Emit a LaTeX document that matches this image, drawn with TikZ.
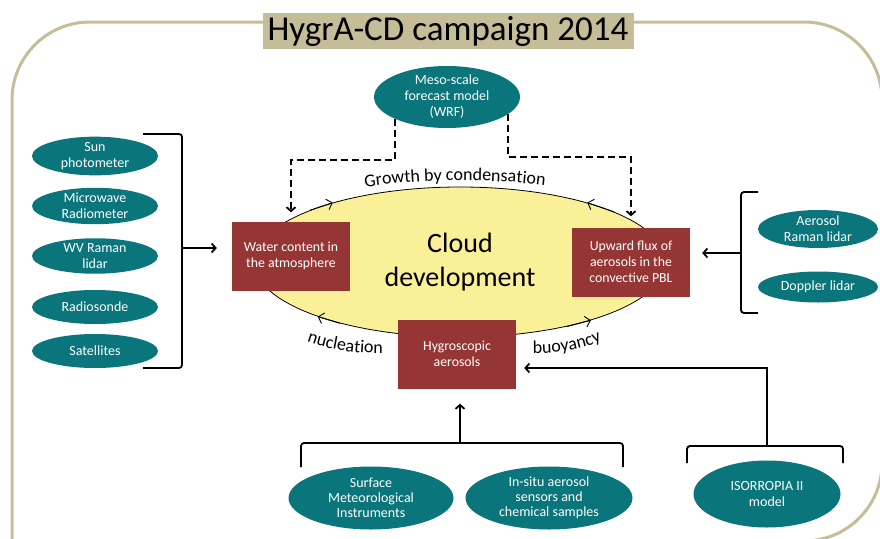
\documentclass[tikz,border=0pt]{standalone}
\usepackage{fontspec}
\setmainfont{Carlito}
\usetikzlibrary{shapes.geometric,arrows.meta,decorations.text}

\definecolor{khaki}{RGB}{197,189,151}
\definecolor{tealfill}{RGB}{10,117,123}
\definecolor{boxred}{RGB}{150,54,52}
\definecolor{cloudy}{RGB}{250,240,152}

\newcommand\smallf{\fontsize{13.8}{16}\selectfont}
\newcommand\labf{\fontsize{18}{21}\selectfont}

\begin{document}
\begin{tikzpicture}
		[x=1pt, y=-1pt,
		>={Straight Barb[length=4pt,width=9pt]},
		sens/.style={ellipse, fill=tealfill, text=white, inner sep=0pt, align=center,
			minimum width=126pt, minimum height=34pt, font=\fontsize{14}{16}\selectfont},
		proc/.style={fill=boxred, text=white, minimum width=118pt, minimum height=69pt,
			inner sep=0pt, align=center, font=\smallf},
		con/.style={draw=black, line width=1.8pt},
		brk/.style={con, rounded corners=3pt},
		dsh/.style={->, line width=1.8pt, dash pattern=on 7pt off 4pt},
		chev/.style={-{Straight Barb[length=5pt,width=11pt]}, line width=0.9pt},
		lab/.style={decorate, decoration={text along path, text align=center, text={#1}}}]

		\useasboundingbox (0,0) rectangle (880,538);
		\clip (0,0) rectangle (880,538);

		% frame, square at the lower left
		\draw[khaki, line width=3pt] (12,560) [rounded corners=78pt] -- (12,22) -- (882,22)
			-- (882,541) -- (500,541);
		\node[fill=khaki, minimum width=371pt, minimum height=36pt, inner sep=0pt,
			font=\fontsize{35}{40}\selectfont] (title) at (448,31) {HygrA-CD campaign 2014};

		% the cycle in the middle
		\node[ellipse, draw=black, line width=0.8pt, fill=cloudy, minimum width=412pt,
			minimum height=150pt, inner sep=0pt, align=center,
			font=\fontsize{28}{34}\selectfont] (cloud) at (460,262) {Cloud\\development};

		\draw[chev] (cloud.161) -- (cloud.155);
		\draw[chev] (cloud.18)  -- (cloud.25);
		\draw[chev] (cloud.207) -- (cloud.201);
		\draw[chev] (cloud.329) -- (cloud.336);

		\node[proc] (water) at (291,256) {Water content in\\the atmosphere};
		\node[proc] (flux)  at (631,262) {Upward flux of\\aerosols in the\\convective PBL};
		\node[proc] (hygro) at (457,354) {Hygroscopic\\aerosols};

		\path[lab={|\labf|Growth by condensation}] (354,189) .. controls (420,178) and (495,178) .. (556,187);
		\path[lab={|\labf|nucleation}] (302,340) .. controls (325,349) and (352,354) .. (388,353);
		\path[lab={|\labf|buoyancy}] (526,353) .. controls (560,354) and (585,349) .. (608,338);

		% model on top
		\node[sens, minimum width=146pt, minimum height=62pt] (meso) at (447,97) {Meso-scale\\forecast model\\(WRF)};

		\coordinate (dl) at (291,160);
		\coordinate (dr) at (631,157);
		\draw[dsh, shorten >=9pt] (meso.203) -- (meso.203 |- dl) -- (dl) -- (water.north);
		\draw[dsh, shorten >=11pt] (meso.344) -- (meso.344 |- dr) -- (dr) -- (flux.north);

		% left instruments
		\node[sens] (sun)   at (95,156) {Sun\\photometer};
		\node[sens] (mwr)   at (95,206) {Microwave\\Radiometer};
		\node[sens] (wvr)   at (95,256) {WV Raman\\lidar};
		\node[sens] (rsond) at (95,307) {Radiosonde};
		\node[sens] (sat)   at (95,351) {Satellites};

		\draw[brk] (143,134) -- (182,134) -- (182,368) -- (143,368);
		\coordinate (lb) at (182,248);
		\draw[con, ->, shorten >=15pt] (lb) -- (water.west |- lb);

		% right instruments
		\node[sens, minimum width=120pt, minimum height=38pt] (arl) at (818,229) {Aerosol\\Raman lidar};
		\node[sens, minimum width=120pt, minimum height=31pt] (dop) at (818,287) {Doppler lidar};

		\draw[brk] (758,192) -- (741,192) -- (741,313) -- (758,313);
		\coordinate (rb) at (741,253);
		\draw[con, ->, shorten >=12pt] (rb) -- (flux.east |- rb);

		% bottom row
		\node[sens, minimum width=165pt, minimum height=63pt, font=\fontsize{14}{15}\selectfont]
			(surf) at (371,498) {Surface\\Meteorological\\Instruments};
		\node[sens, minimum width=167pt, minimum height=63pt, font=\fontsize{14}{15}\selectfont]
			(insitu) at (549,498) {In-situ aerosol\\sensors and\\chemical samples};
		\node[sens, minimum width=147pt, minimum height=67pt]
			(isor) at (767,494) {ISORROPIA II\\model};

		\draw[brk] (301,467) -- (301,443) -- (623,443) -- (623,467);
		\coordinate (bb) at (460,443);
		\draw[con, ->, shorten >=15pt] (bb) -- (bb |- hygro.south);

		\draw[brk] (687,463) -- (687,446) -- (843,446) -- (843,463);
		\coordinate (ib) at (767,446);
		\coordinate (ik) at (767,368);
		\draw[con, ->, shorten >=8pt] (ib) -- (ik) -- (ik -| hygro.east);

	\end{tikzpicture}
\end{document}
